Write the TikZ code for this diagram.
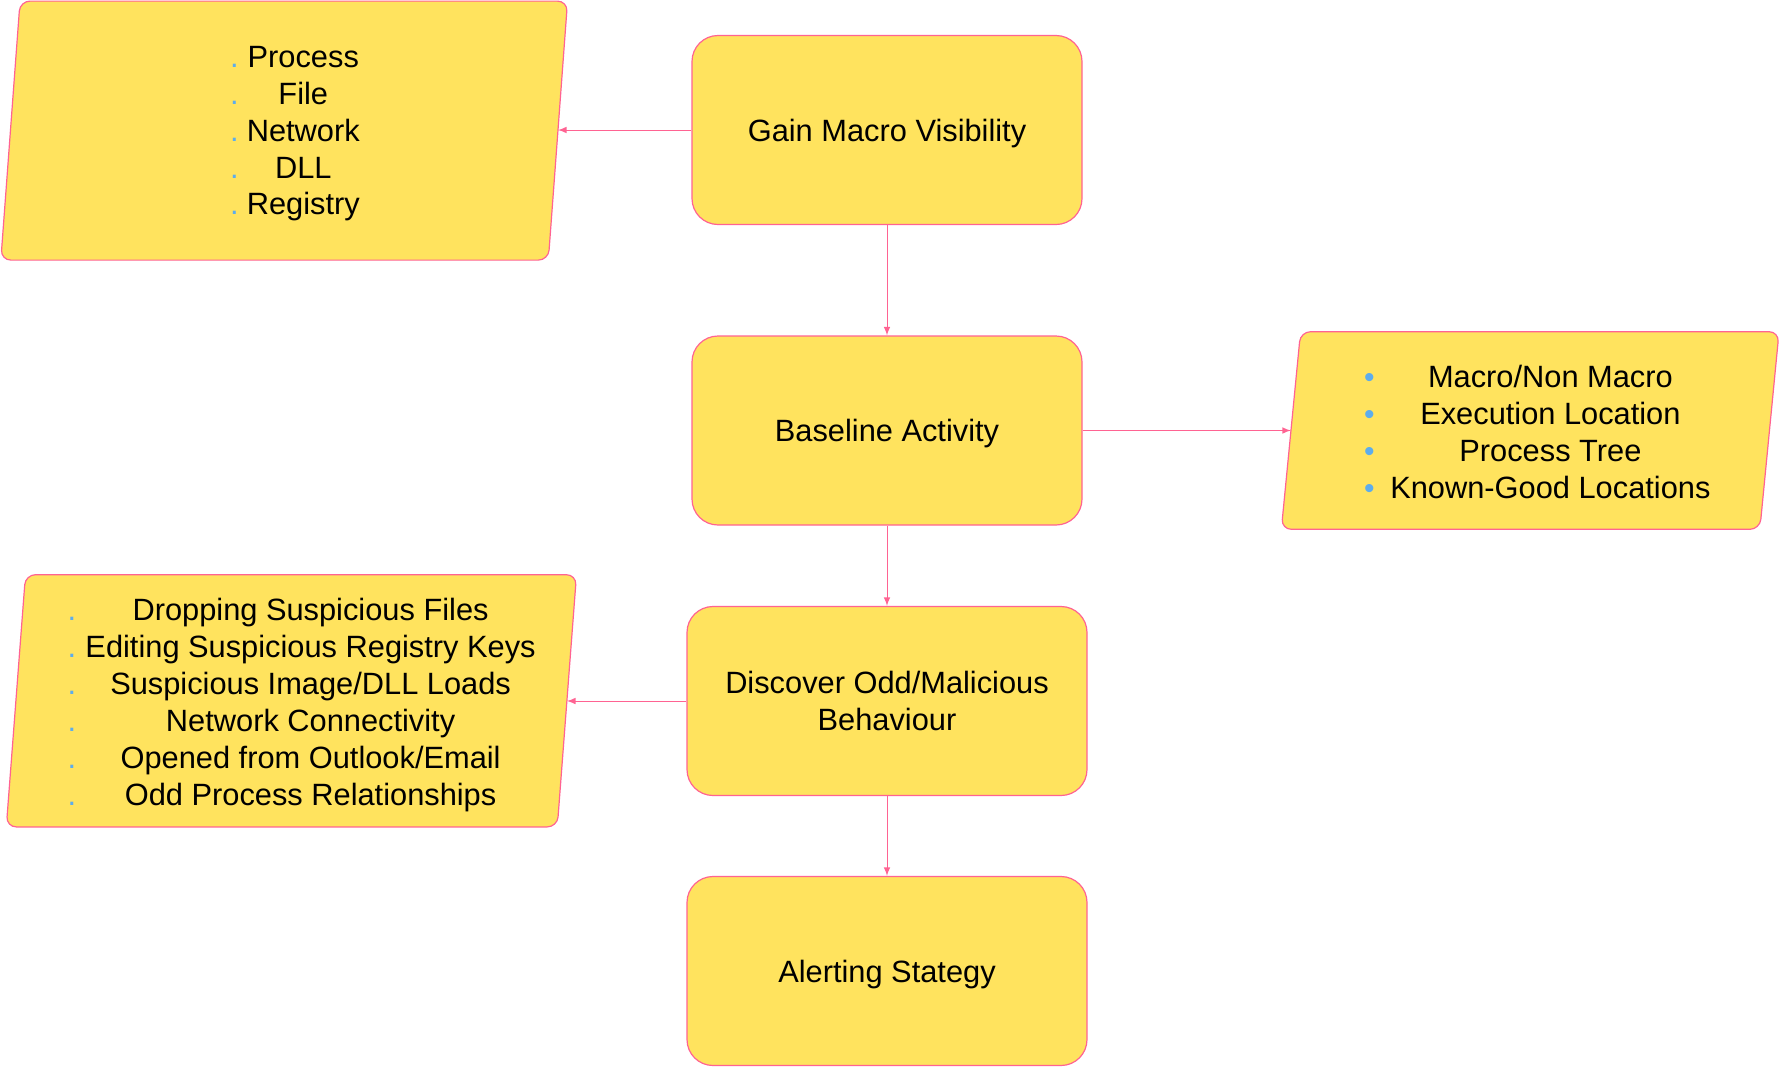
\documentclass[tikz,border=0pt]{standalone}
\usepackage{fontspec}
\setmainfont{Liberation Sans}
\usepackage{tikz}
\usetikzlibrary{arrows}

\definecolor{boxyellow}{HTML}{FFE35E}
\definecolor{boxpink}{HTML}{FF6392}
\definecolor{dotblue}{HTML}{5DADEC}

\newcommand{\smalldot}{\textcolor{dotblue}{.}}
\newcommand{\bigdot}{{\fontsize{15}{15}\selectfont\textcolor{dotblue}{\char"2022}}}
\newcommand{\listrow}[3]{\hbox to #1{\rlap{\kern-2pt#2}\hfil #3\hfil}}

\begin{document}
\begin{tikzpicture}[%
  x=0.5pt, y=-0.5pt,
  flowbox/.style={draw=boxpink, fill=boxyellow, line width=0.6pt,
    rounded corners=13pt, minimum width=195pt, minimum height=94.5pt,
    inner sep=0pt, align=center, text depth=0pt, font=\fontsize{15.4}{18.6}\selectfont},
  widebox/.style={flowbox, minimum width=200pt},
  listframe/.style={inner sep=0pt, outer sep=0pt},
  paraline/.style={draw=boxpink, fill=boxyellow, line width=0.6pt, rounded corners=5pt},
  listtext/.style={inner sep=0pt, align=center, text depth=0pt, font=\fontsize{15.4}{18.45}\selectfont},
  link/.style={draw=boxpink, line width=0.5pt, -latex}]

  \useasboundingbox (0,0) rectangle (1781,1066);

  \node[flowbox] (gain) at (887,130) {Gain Macro Visibility};
  \node[flowbox] (baseline) at (887,430.5) {Baseline Activity};
  \node[widebox] (discover) at (887,701) {Discover Odd/Malicious\\Behaviour};
  \node[widebox] (alerting) at (887,971) {Alerting Stategy};

  \node[listframe, minimum width=273.75pt, minimum height=129.5pt] (visFrame) at (284.2,130.6) {};
  \node[listframe, minimum width=239.25pt, minimum height=98.8pt] (baseFrame) at (1530.2,430.5) {};
  \node[listframe, minimum width=275.5pt, minimum height=126.1pt] (oddFrame) at (291.4,700.8) {};

  \foreach \f in {visFrame,baseFrame,oddFrame}
    \draw[paraline] ([xshift=4.8pt]\f.north west) -- ([xshift=4.8pt]\f.north east)
      -- ([xshift=-4.8pt]\f.south east) -- ([xshift=-4.8pt]\f.south west) -- cycle;

  \node[listtext] (visList) at (303.3,130.6) {%
    \listrow{69.3pt}{\smalldot}{Process}\\
    \listrow{69.3pt}{\smalldot}{File}\\
    \listrow{69.3pt}{\smalldot}{Network}\\
    \listrow{69.3pt}{\smalldot}{DLL}\\
    \listrow{69.3pt}{\smalldot}{Registry}};
  \node[listtext] (baseList) at (1550.4,432) {%
    \listrow{182.4pt}{\bigdot}{Macro/Non Macro}\\
    \listrow{182.4pt}{\bigdot}{Execution Location}\\
    \listrow{182.4pt}{\bigdot}{Process Tree}\\
    \listrow{182.4pt}{\bigdot}{Known-Good Locations}};
  \node[listtext] (oddList) at (310.6,702) {%
    \listrow{239pt}{\smalldot}{Dropping Suspicious Files}\\
    \listrow{239pt}{\smalldot}{Editing Suspicious Registry Keys}\\
    \listrow{239pt}{\smalldot}{Suspicious Image/DLL Loads}\\
    \listrow{239pt}{\smalldot}{Network Connectivity}\\
    \listrow{239pt}{\smalldot}{Opened from Outlook/Email}\\
    \listrow{239pt}{\smalldot}{Odd Process Relationships}};

  \draw[link] (gain.west) -- (gain.west -| visFrame.east);
  \draw[link] (gain.south) -- (baseline.north);
  \draw[link] (baseline.east) -- (baseline.east -| baseFrame.west);
  \draw[link] (baseline.south) -- (discover.north);
  \draw[link] (discover.west) -- (discover.west -| oddFrame.east);
  \draw[link] (discover.south) -- (alerting.north);
\end{tikzpicture}
\end{document}
